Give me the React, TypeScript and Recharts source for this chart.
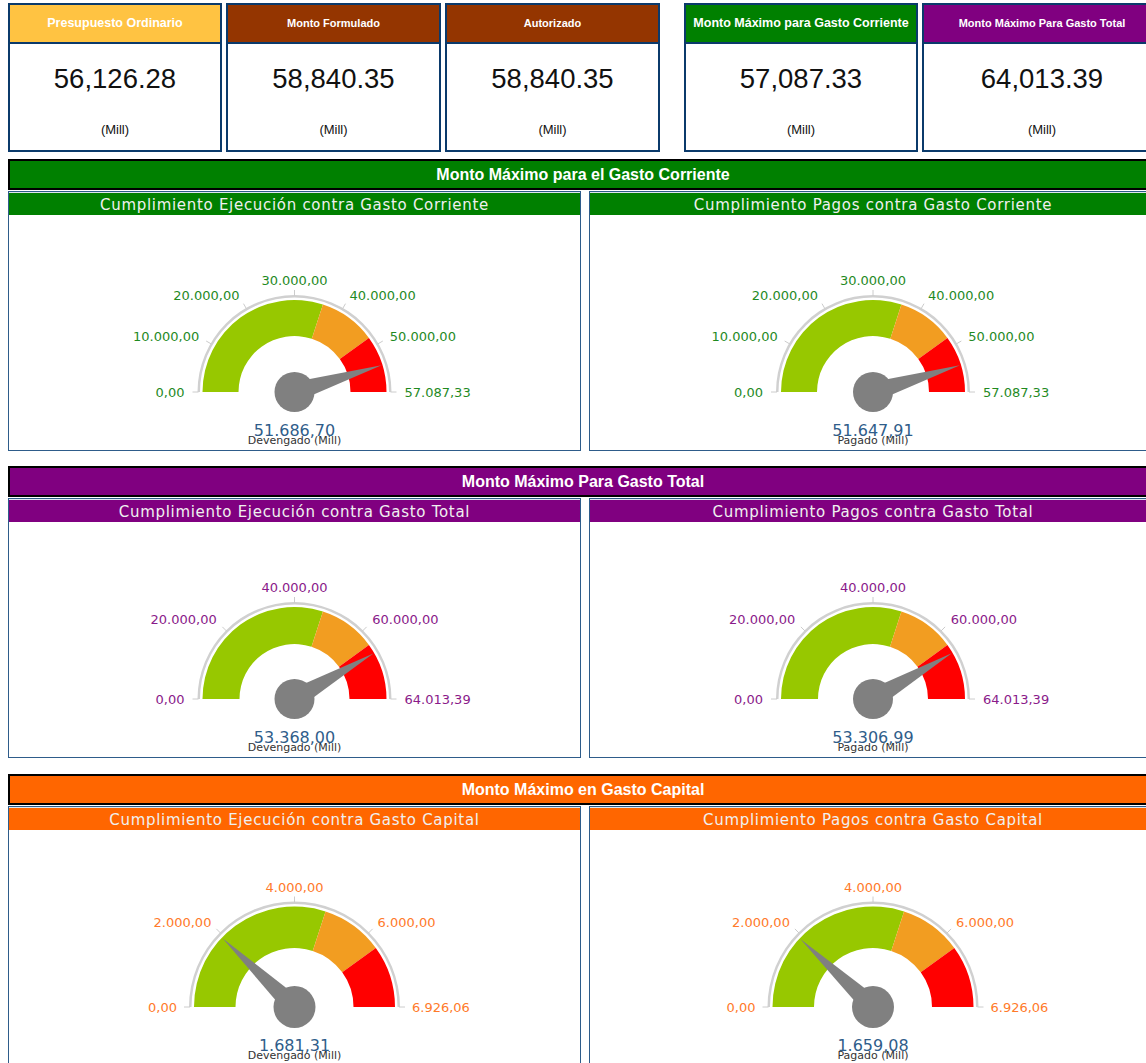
import React from "react"
import { PieChart, Pie, Cell } from "recharts"

// tarjetas superiores
const cardTitles = [
  "Presupuesto Ordinario",
  "Monto Formulado",
  "Autorizado",
  "Monto Máximo para Gasto Corriente",
  "Monto Máximo Para Gasto Total",
]
const cardValues = [56126.28, 58840.35, 58840.35, 57087.33, 64013.39]
const cardColors = ["#ffc342", "#943500", "#943500", "#008000", "#800080"]

// secciones de indicadores
const sectionTitles = [
  "Monto Máximo para el Gasto Corriente",
  "Monto Máximo Para Gasto Total",
  "Monto Máximo en Gasto Capital",
]
const sectionColors = ["#008000", "#800080", "#ff6600"]
const tickColors = ["#1f8a1f", "#8a1a8a", "#ff7a2a"]
const ejecucionTitles = [
  "Cumplimiento Ejecución contra Gasto Corriente",
  "Cumplimiento Ejecución contra Gasto Total",
  "Cumplimiento Ejecución contra Gasto Capital",
]
const pagosTitles = [
  "Cumplimiento Pagos contra Gasto Corriente",
  "Cumplimiento Pagos contra Gasto Total",
  "Cumplimiento Pagos contra Gasto Capital",
]

const gaugeMax = [57087.33, 64013.39, 6926.06]
const devengado = [51686.7, 53368.0, 1681.31]
const pagado = [51647.91, 53306.99, 1659.08]

const corrienteTicks = [0, 10000, 20000, 30000, 40000, 50000, 57087.33]
const totalTicks = [0, 20000, 40000, 60000, 64013.39]
const capitalTicks = [0, 2000, 4000, 6000, 6926.06]

const corrienteBands = [34252.4, 45669.86, 57087.33]
const totalBands = [38408.03, 51210.71, 64013.39]
const capitalBands = [4155.64, 5540.85, 6926.06]
const bandColors = ["#97c800", "#f29d21", "#ff0000"]

const seriesNames = ["Devengado (Mill)", "Pagado (Mill)"]

const NAVY = "#0b3a6b"
const RAD = Math.PI / 180

function fmt(v: number, thou: string, dec: string) {
  const [i, d] = v.toFixed(2).split(".")
  return i.replace(/\B(?=(\d{3})+(?!\d))/g, thou) + dec + d
}

interface GaugeProps {
  width: number
  height: number
  cx: number
  cy: number
  max: number
  value: number
  bands: number[]
  ticks: number[]
  outer: number
  inner: number
  labelR: number
  hubR: number
  color: string
  name: string
}

function Gauge({ width, height, cx, cy, max, value, bands, ticks, outer, inner, labelR, hubR, color, name }: GaugeProps) {
  const bandData = bands.map((end, i) => ({ name: "b" + i, value: end - (i ? bands[i - 1] : 0) }))
  const tickData = ticks.slice(1).map((t) => ({ name: String(t), value: 1 }))
  const needleData = [
    { name: "valor", value },
    { name: "resto", value: max - value },
  ]
  const rimIn = outer + 2.5
  const rimOut = outer + 5

  const renderTick = (p: any) => {
    const items: [number, number][] = [[p.startAngle, ticks[p.index]]]
    if (p.index === ticks.length - 2) items.push([p.endAngle, ticks[ticks.length - 1]])
    return (
      <g key={"t" + p.index}>
        {items.map(([a, t], k) => {
          const c = Math.cos(a * RAD)
          const s = Math.sin(a * RAD)
          const anchor = c > 0.1 ? "start" : c < -0.1 ? "end" : "middle"
          return (
            <g key={k}>
              <line
                x1={p.cx + (rimOut - 1) * c}
                y1={p.cy - (rimOut - 1) * s}
                x2={p.cx + (rimOut + 5) * c}
                y2={p.cy - (rimOut + 5) * s}
                stroke="#cccccc"
                strokeWidth={1}
              />
              <text
                x={p.cx + labelR * c}
                y={p.cy - (labelR + 2) * s}
                textAnchor={anchor}
                dominantBaseline="central"
                fill={color}
                fontSize={13}
                fontFamily="'DejaVu Sans', Verdana, sans-serif"
              >
                {fmt(t, ".", ",")}
              </text>
            </g>
          )
        })}
      </g>
    )
  }

  const renderNeedle = (p: any) => {
    if (p.index !== 0) return <g key="n1" />
    const c = Math.cos(p.endAngle * RAD)
    const s = Math.sin(p.endAngle * RAD)
    const len = outer - 1
    const w = 10
    const pts = [
      [p.cx + len * c, p.cy - len * s],
      [p.cx + w * s, p.cy + w * c],
      [p.cx - w * s, p.cy - w * c],
    ]
      .map((q) => q.join(","))
      .join(" ")
    return (
      <g key="n0">
        <polygon points={pts} fill="#808080" />
        <circle cx={p.cx} cy={p.cy} r={hubR} fill="#808080" />
        <text
          x={p.cx}
          y={p.cy + 44}
          textAnchor="middle"
          fill="#2f5d8a"
          fontSize={16}
          fontFamily="'DejaVu Sans', Verdana, sans-serif"
        >
          {fmt(p.value, ".", ",")}
        </text>
        <text
          x={p.cx}
          y={p.cy + 51.5}
          textAnchor="middle"
          fill="#333333"
          fontSize={11}
          fontFamily="'DejaVu Sans', Verdana, sans-serif"
        >
          {name}
        </text>
      </g>
    )
  }

  return (
    <PieChart width={width} height={height} margin={{ top: 0, right: 0, bottom: 0, left: 0 }}>
      <Pie
        data={[{ name: "rim", value: max }]}
        dataKey="value"
        cx={cx}
        cy={cy}
        startAngle={180}
        endAngle={0}
        innerRadius={rimIn}
        outerRadius={rimOut}
        fill="#d0d0d0"
        stroke="none"
        isAnimationActive={false}
      />
      <Pie
        data={bandData}
        dataKey="value"
        cx={cx}
        cy={cy}
        startAngle={180}
        endAngle={0}
        innerRadius={inner}
        outerRadius={outer}
        stroke="none"
        isAnimationActive={false}
      >
        {bandData.map((_, i) => (
          <Cell key={i} fill={bandColors[i]} />
        ))}
      </Pie>
      <Pie
        data={tickData}
        dataKey="value"
        cx={cx}
        cy={cy}
        startAngle={180}
        endAngle={0}
        innerRadius={rimOut}
        outerRadius={rimOut + 1}
        fill="none"
        stroke="none"
        label={renderTick}
        labelLine={false}
        isAnimationActive={false}
      />
      <Pie
        data={needleData}
        dataKey="value"
        cx={cx}
        cy={cy}
        startAngle={180}
        endAngle={0}
        innerRadius={0}
        outerRadius={1}
        fill="none"
        stroke="none"
        label={renderNeedle}
        labelLine={false}
        isAnimationActive={false}
      />
    </PieChart>
  )
}

const cardBoxes = [
  [8, 214],
  [226, 215],
  [445, 215],
  [684, 234],
  [922, 240],
]
const cardFont = [12.5, 11, 11, 12.5, 11]

function Card({ i }: { i: number }) {
  const [left, width] = cardBoxes[i]
  return (
    <div
      style={{
        position: "absolute",
        left,
        top: 3,
        width,
        height: 149,
        border: `2px solid ${NAVY}`,
        boxSizing: "border-box",
        background: "#fff",
      }}
    >
      <div
        style={{
          height: 37,
          background: cardColors[i],
          borderBottom: `2px solid ${NAVY}`,
          color: "#fff",
          fontWeight: "bold",
          fontSize: cardFont[i],
          lineHeight: "37px",
          textAlign: "center",
          whiteSpace: "nowrap",
          overflow: "hidden",
        }}
      >
        {cardTitles[i]}
      </div>
      <div
        style={{
          position: "absolute",
          left: 0,
          right: 0,
          top: 58,
          lineHeight: "32px",
          fontSize: 27.5,
          textAlign: "center",
          color: "#111",
        }}
      >
        {fmt(cardValues[i], ",", ".")}
      </div>
      <div
        style={{
          position: "absolute",
          left: 0,
          right: 0,
          top: 117,
          lineHeight: "16px",
          fontSize: 13,
          textAlign: "center",
          color: "#111",
        }}
      >
        (Mill)
      </div>
    </div>
  )
}

const sectionTops = [159, 466, 774]
const panelBoxes = [
  [8, 573],
  [589, 568],
]
const gaugeSizes = [
  { outer: 92, inner: 56, labelR: 110, hubR: 20 },
  { outer: 92, inner: 55, labelR: 110, hubR: 20 },
  { outer: 100.5, inner: 59, labelR: 117.5, hubR: 21 },
]
const tickSets = [corrienteTicks, totalTicks, capitalTicks]
const bandSets = [corrienteBands, totalBands, capitalBands]

function Panel({ s, side }: { s: number; side: number }) {
  const [left, width] = panelBoxes[side]
  const top = sectionTops[s] + 32
  const innerW = width - 2
  const size = gaugeSizes[s]
  return (
    <div
      style={{
        position: "absolute",
        left,
        top,
        width,
        height: 260,
        border: "1px solid #2e5c8a",
        boxSizing: "border-box",
        background: "#fff",
      }}
    >
      <div
        style={{
          height: 22,
          borderTop: "1px solid #dfe6ee",
          background: sectionColors[s],
          color: "#f0f0f0",
          fontFamily: "'DejaVu Sans', Verdana, sans-serif",
          fontSize: 15,
          letterSpacing: 0.7,
          lineHeight: "25px",
          textAlign: "center",
          whiteSpace: "nowrap",
          overflow: "hidden",
        }}
      >
        {side === 0 ? ejecucionTitles[s] : pagosTitles[s]}
      </div>
      <Gauge
        width={innerW}
        height={235}
        cx={innerW / 2}
        cy={177}
        max={gaugeMax[s]}
        value={side === 0 ? devengado[s] : pagado[s]}
        bands={bandSets[s]}
        ticks={tickSets[s]}
        outer={size.outer}
        inner={size.inner}
        labelR={size.labelR}
        hubR={size.hubR}
        color={tickColors[s]}
        name={seriesNames[side]}
      />
    </div>
  )
}

function Section({ s }: { s: number }) {
  return (
    <>
      <div
        style={{
          position: "absolute",
          left: 8,
          top: sectionTops[s],
          width: 1150,
          height: 31,
          border: "2px solid #000",
          boxSizing: "border-box",
          background: sectionColors[s],
          color: "#fff",
          fontWeight: "bold",
          fontSize: 16,
          lineHeight: "27px",
          textAlign: "center",
        }}
      >
        {sectionTitles[s]}
      </div>
      <Panel s={s} side={0} />
      <Panel s={s} side={1} />
    </>
  )
}

export default function App() {
  return (
    <div
      style={{
        position: "absolute",
        left: 0,
        top: 0,
        width: 1146,
        height: 1063,
        overflow: "hidden",
        background: "#fff",
        fontFamily: "'Liberation Sans', Arial, sans-serif",
      }}
    >
      {cardTitles.map((_, i) => (
        <Card key={i} i={i} />
      ))}
      {sectionTitles.map((_, s) => (
        <Section key={s} s={s} />
      ))}
    </div>
  )
}
